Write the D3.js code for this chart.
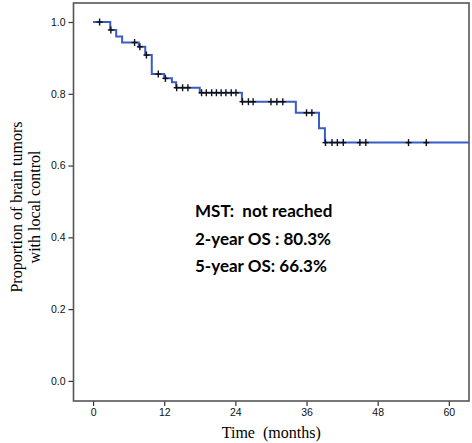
<!DOCTYPE html>
<html><head><meta charset="utf-8">
<script src="https://cdn.jsdelivr.net/npm/d3@7"></script>
<style>body{margin:0;background:#fff}</style>
</head><body>
<svg id="c" width="472" height="443"></svg>
<script>
// Kaplan-Meier estimate
const eventTimes = [2.9, 3.9, 4.9, 7.7, 8.8, 9.9, 12.0, 13.3, 14.0, 18.0, 25.1, 34.2, 38.1, 39.1];
const survival   = [0.978, 0.960, 0.943, 0.931, 0.908, 0.855, 0.843, 0.832, 0.817, 0.803, 0.778, 0.747, 0.704, 0.664];
const censorTimes = [1.1, 3.0, 7.0, 7.9, 9.0, 11.0, 12.2, 14.1, 15.1, 16.0,
  18.3, 19.1, 20.0, 20.8, 21.6, 22.4, 23.3, 24.1,
  25.2, 26.2, 27.0, 30.0, 31.0, 32.0,
  36.0, 36.9,
  39.2, 40.3, 41.2, 42.2, 45.0, 46.0, 53.2, 56.2];
const xTicks = [0, 12, 24, 36, 48, 60];
const yTicks = [0, 0.2, 0.4, 0.6, 0.8, 1.0];
const yLabelLines = ["Proportion of brain tumors", "with local control"];
const xLabel = "Time  (months)";
const notes = ["MST:  not reached", "2-year OS : 80.3%", "5-year OS: 66.3%"];

const svg = d3.select("#c");
const L = 73.5, R = 469, T = 3, B = 401;
const x = d3.scaleLinear().domain([-3.3, 63.4]).range([L, R]);
const y = d3.scaleLinear().domain([-0.056, 1.053]).range([B, T]);

function surv(t) {
  let s = 1;
  for (let i = 0; i < eventTimes.length; i++) if (eventTimes[i] <= t) s = survival[i];
  return s;
}

// axes
const xAxis = svg.append("g").attr("transform", `translate(0,${B})`)
  .call(d3.axisBottom(x).tickValues(xTicks).tickSize(5).tickPadding(3).tickFormat(d3.format("d")));
const yAxis = svg.append("g").attr("transform", `translate(${L},0)`)
  .call(d3.axisLeft(y).tickValues(yTicks).tickSize(5).tickPadding(3).tickFormat(d3.format(".1f")));
[xAxis, yAxis].forEach(g => {
  g.select(".domain").remove();
  g.selectAll("line").attr("stroke", "#333").attr("stroke-width", 1.2);
  g.selectAll("text").attr("fill", "#111").style("font-family", "Liberation Sans, Arial, sans-serif").style("font-size", "10.5px");
});

// frame
svg.append("rect").attr("x", L).attr("y", T).attr("width", R - L).attr("height", B - T)
  .attr("fill", "none").attr("stroke", "#555").attr("stroke-width", 1.6);

// curve
const pts = [[0, 1]].concat(eventTimes.map((t, i) => [t, survival[i]]));
pts.push([x.domain()[1], survival[survival.length - 1]]);
svg.append("path").datum(pts)
  .attr("d", d3.line().x(d => x(d[0])).y(d => y(d[1])).curve(d3.curveStepAfter))
  .attr("fill", "none").attr("stroke", "#3b5cc4").attr("stroke-width", 2);

// censor marks
const cg = svg.append("g").attr("stroke", "#111").attr("stroke-width", 1.4);
censorTimes.forEach(t => {
  const cx = x(t), cy = y(surv(t));
  cg.append("line").attr("x1", cx).attr("x2", cx).attr("y1", cy - 3.5).attr("y2", cy + 3.5);
  cg.append("line").attr("x1", cx - 3).attr("x2", cx + 3).attr("y1", cy).attr("y2", cy);
});

// annotation
notes.forEach((n, i) => {
  svg.append("text").attr("x", 195).attr("y", 217 + i * 27.5)
    .style("font-family", "Lato, sans-serif").style("font-weight", "bold").style("font-size", "17px")
    .style("white-space", "pre").attr("fill", "#000").text(n);
});

// axis titles
svg.append("text").attr("x", (L + R) / 2).attr("y", 438).attr("text-anchor", "middle")
  .style("font-family", "Liberation Serif, Times New Roman, serif").style("font-size", "16px")
  .style("white-space", "pre").attr("fill", "#000").text(xLabel);
yLabelLines.forEach((s, i) => {
  svg.append("text").attr("transform", `translate(${22 + i * 18},207) rotate(-90)`)
    .attr("text-anchor", "middle")
    .style("font-family", "Liberation Serif, Times New Roman, serif").style("font-size", "16px")
    .attr("fill", "#000").text(s);
});
</script>
</body></html>
